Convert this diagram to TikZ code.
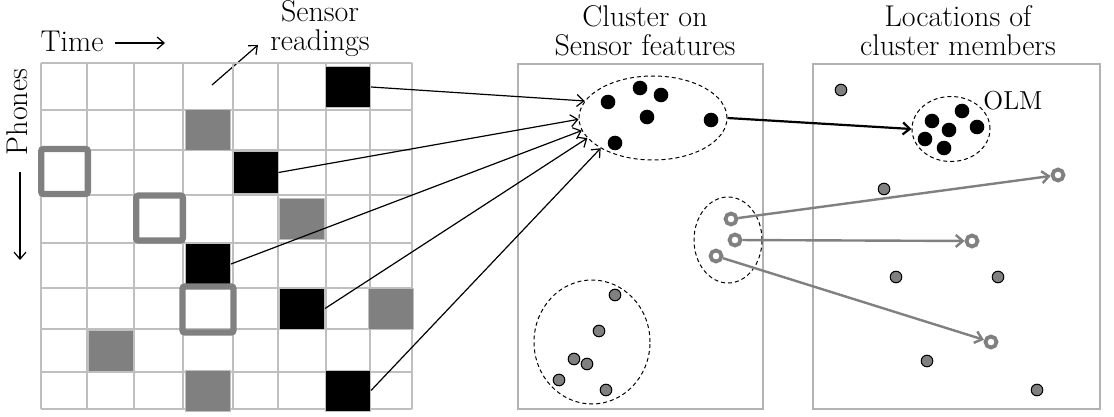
\documentclass[tikz,border=0pt]{standalone}
\usetikzlibrary{shapes.geometric,arrows.meta,positioning}

\begin{document}
\begin{tikzpicture}[x=0.5pt, y=-0.5pt,
  >={Straight Barb[length=3.5pt,width=6pt]},
  cell/.style={rectangle, fill=#1, draw=black!25, line width=0.5pt, minimum width=22.5pt, minimum height=20.5pt, inner sep=0pt},
  hollow/.style={rectangle, draw=black!50, line width=3.2pt, minimum width=23.3pt, minimum height=22.5pt, rounded corners=1.2pt, inner sep=0pt},
  dot/.style={circle, fill=black, minimum size=7.3pt, inner sep=0pt},
  gdot/.style={circle, fill=black!50, draw=black, line width=0.5pt, minimum size=5.8pt, inner sep=0pt},
  ring/.style={circle, draw=black!50, line width=1.9pt, minimum size=5.5pt, inner sep=0pt},
  clus/.style={ellipse, draw, dash pattern=on 2pt off 1.5pt, line width=0.5pt, inner sep=0pt},
  panel/.style={draw=black!30, line width=0.7pt},
  head/.style={font=\fontsize{15}{14.5}\selectfont, align=center}
]
  \useasboundingbox (0,0) rectangle (1114,417);

  % Labels
  \node[head] (time) at (72,41) {Time};
  \node[head] (sensor) at (320,29) {Sensor\\readings};
  \node[head, rotate=90] (phones) at (17,112) {Phones};
  \node[head] (hclus) at (645,31) {Cluster on\\Sensor features};
  \node[head] (hloc) at (958,31) {Locations of\\cluster members};
  \coordinate (timeA) at (115,43);
  \coordinate (timeB) at (165,43);
  \coordinate (phA) at (20,172);
  \coordinate (phB) at (20,260);
  \coordinate (srA) at (212,85);
  \coordinate (srB) at (258,45);
  \draw[->, line width=0.6pt] (timeA) -- (timeB);
  \draw[->, line width=0.6pt] (phA) -- (phB);
  \draw[->, line width=0.6pt] (srA) -- (srB);

  % Grid
  \foreach \x in {41,87,134,183,233,278,326,370,412}
    \draw[black!25, line width=0.75pt] (\x,63) -- (\x,409);
  \foreach \y in {63,110,150,195,243,288,329,372,409}
    \draw[black!25, line width=0.75pt] (41,\y) -- (412,\y);

  % Grey readings
  \node[cell=black!50] (g1) at (208,130) {};
  \node[cell=black!50] (g2) at (302,219) {};
  \node[cell=black!50] (g3) at (391,308.5) {};
  \node[cell=black!50] (g4) at (110.5,350.5) {};
  \node[cell=black!50] (g5) at (208,390.5) {};
  % Black readings
  \node[cell=black] (b1) at (348,87) {};
  \node[cell=black] (b2) at (255.5,172.5) {};
  \node[cell=black] (b3) at (208,264) {};
  \node[cell=black] (b4) at (302,308.5) {};
  \node[cell=black] (b5) at (348,390.5) {};
  % Empty readings
  \node[hollow] (h1) at (64.5,171.5) {};
  \node[hollow] (h2) at (159.5,218) {};
  \node[hollow, minimum width=25.5pt, minimum height=23pt] (h3) at (208,309.5) {};

  % Panels
  \draw[panel] (518,64) rectangle (763,409);
  \draw[panel] (813,64) rectangle (1100,409);

  % Cluster on sensor features
  \node[clus, minimum width=74pt, minimum height=42pt] (clA) at (653,118) {};
  \node[clus, minimum width=58pt, minimum height=62pt] (clB) at (592,342) {};
  \node[clus, minimum width=34pt, minimum height=43pt] (clC) at (728,240) {};
  \foreach \p [count=\i] in {(608,102),(640,88),(661,95),(647,117),(711,120),(615,143)}
    \node[dot] (a\i) at \p {};
  \foreach \p [count=\i] in {(615,295),(599,331),(574,359),(587,364),(559,380),(606,390)}
    \node[gdot] (c\i) at \p {};
  \node[ring] (s1) at (731,219) {};
  \node[ring] (s2) at (735,240) {};
  \node[ring] (s3) at (716,256) {};

  % Locations of cluster members
  \node[clus, minimum width=39pt, minimum height=32.5pt] (olm) at (951,129) {};
  \node[font=\fontsize{13}{14}\selectfont] (olmlab) at (1013,101) {OLM};
  \foreach \p [count=\i] in {(932,121),(962,111),(977,127),(949,130),(925,139),(944,148)}
    \node[dot] (o\i) at \p {};
  \foreach \p [count=\i] in {(841,90),(884,189),(896,277),(998,277),(927,361),(1037,390)}
    \node[gdot] (l\i) at \p {};
  \node[ring] (t1) at (1058,175) {};
  \node[ring] (t2) at (972,241) {};
  \node[ring] (t3) at (991,342) {};

  % Connectors
  \draw[->, line width=0.6pt] (b1.east) -- (clA.166);
  \draw[->, line width=0.6pt] (b2.east) -- (clA.181);
  \draw[->, line width=0.6pt] (b3.east) -- (clA.190);
  \draw[->, line width=0.6pt] (b4.east) -- (clA.197);
  \draw[->, line width=0.6pt] (b5.east) -- (clA.210);
  \draw[->, line width=1.1pt] (clA.east) -- (olm.west);
  \draw[->, black!50, line width=1.2pt] (s1) -- (t1);
  \draw[->, black!50, line width=1.2pt] (s2) -- (t2);
  \draw[->, black!50, line width=1.2pt] (s3) -- (t3);
\end{tikzpicture}
\end{document}
